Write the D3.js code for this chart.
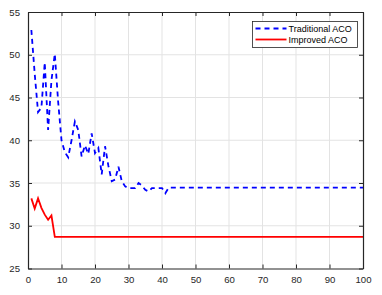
<!DOCTYPE html>
<html>
<head>
<meta charset="utf-8">
<script src="https://cdn.jsdelivr.net/npm/d3@7"></script>
<style>
    body { margin: 0; background: #fff; }
    text { font-family: "Liberation Sans", Arial, sans-serif; }
</style>
</head>
<body>
<script>
// iteration 1..100
var iterations = d3.range(1, 101);

// Traditional ACO, first 42 iterations then flat
var traditionalHead = [52.9, 47.8, 43.3, 43.8, 49.1, 41.2, 47.0, 50.1, 44.5, 40.0,
    38.6, 38.0, 40.0, 42.2, 41.2, 38.1, 39.4, 38.4, 40.8, 38.5,
    39.1, 36.0, 39.3, 37.0, 35.2, 35.4, 36.9, 35.2, 34.6, 34.4,
    34.4, 34.4, 35.0, 34.7, 34.2, 34.0, 34.4, 34.4, 34.4, 34.4,
    33.8, 34.45];
var traditionalTail = 34.45;

// Improved ACO, first 8 iterations then flat
var improvedHead = [33.2, 32.0, 33.2, 32.1, 31.3, 30.7, 31.2, 28.7];
var improvedTail = 28.7;

var xTicks = [0, 10, 20, 30, 40, 50, 60, 70, 80, 90, 100];
var yTicks = [25, 30, 35, 40, 45, 50, 55];

var seriesNames = ["Traditional ACO", "Improved ACO"];

var traditional = iterations.map(function(it, i) {
    return i < traditionalHead.length ? traditionalHead[i] : traditionalTail;
});
var improved = iterations.map(function(it, i) {
    return i < improvedHead.length ? improvedHead[i] : improvedTail;
});

var width = 382,
    height = 295;

// plot box (don't call these top/left, window.top is read only)
var plotLeft = 28, plotRight = 363, plotTop = 12, plotBottom = 268.5;

var axisColor = "#262626";

var svg = d3.select("body").append("svg")
    .attr("width", width)
    .attr("height", height);

var x = d3.scaleLinear().domain([0, 100]).range([plotLeft, plotRight]);
var y = d3.scaleLinear().domain([25, 55]).range([plotBottom, plotTop]);

// grid
svg.append("g")
    .selectAll("line")
    .data(xTicks.slice(1, -1))
    .enter().append("line")
    .attr("x1", function(d) { return x(d); })
    .attr("x2", function(d) { return x(d); })
    .attr("y1", plotTop)
    .attr("y2", plotBottom)
    .style("stroke", "#e3e3e3")
    .style("stroke-width", 1);

svg.append("g")
    .selectAll("line")
    .data(yTicks.slice(1, -1))
    .enter().append("line")
    .attr("x1", plotLeft)
    .attr("x2", plotRight)
    .attr("y1", function(d) { return y(d); })
    .attr("y2", function(d) { return y(d); })
    .style("stroke", "#e3e3e3")
    .style("stroke-width", 1);

var line = d3.line()
    .x(function(d, i) { return x(iterations[i]); })
    .y(function(d) { return y(d); });

svg.append("path")
    .datum(traditional)
    .attr("d", line)
    .style("fill", "none")
    .style("stroke", "#0000ff")
    .style("stroke-width", 1.8)
    .style("stroke-dasharray", "5,4");

svg.append("path")
    .datum(improved)
    .attr("d", line)
    .style("fill", "none")
    .style("stroke", "#ff0000")
    .style("stroke-width", 1.8);

// axes, ticks inside like MATLAB
var bottomAxis = d3.axisBottom(x).tickValues(xTicks).tickSizeInner(-4).tickSizeOuter(0).tickPadding(8);
var leftAxis = d3.axisLeft(y).tickValues(yTicks).tickSizeInner(-4).tickSizeOuter(0).tickPadding(8);
var topAxis = d3.axisTop(x).tickValues(xTicks).tickSizeInner(-4).tickSizeOuter(0).tickFormat("");
var rightAxis = d3.axisRight(y).tickValues(yTicks).tickSizeInner(-4).tickSizeOuter(0).tickFormat("");

function styleAxis(g) {
    g.select(".domain").style("stroke", axisColor).style("stroke-width", 1.2);
    g.selectAll(".tick line").style("stroke", axisColor);
    g.selectAll(".tick text")
        .style("fill", axisColor)
        .style("font-size", "9.6px")
        .style("font-family", "'Liberation Sans', Arial, sans-serif");
}

svg.append("g").attr("transform", "translate(0," + plotBottom + ")").call(bottomAxis).call(styleAxis);
svg.append("g").attr("transform", "translate(" + plotLeft + ",0)").call(leftAxis).call(styleAxis);
svg.append("g").attr("transform", "translate(0," + plotTop + ")").call(topAxis).call(styleAxis);
svg.append("g").attr("transform", "translate(" + plotRight + ",0)").call(rightAxis).call(styleAxis);

// legend
var legend = svg.append("g").attr("transform", "translate(252.5,21.5)");

legend.append("rect")
    .attr("width", 105)
    .attr("height", 26)
    .style("fill", "#fff")
    .style("stroke", axisColor)
    .style("stroke-width", 0.8);

var legendStyles = [
    { color: "#0000ff", dash: "5,4" },
    { color: "#ff0000", dash: null }
];

var items = legend.selectAll("g.item")
    .data(seriesNames)
    .enter().append("g")
    .attr("class", "item")
    .attr("transform", function(d, i) { return "translate(0," + (7 + i * 11) + ")"; });

items.append("line")
    .attr("x1", 3)
    .attr("x2", 34)
    .attr("y1", 0)
    .attr("y2", 0)
    .style("stroke", function(d, i) { return legendStyles[i].color; })
    .style("stroke-width", 1.8)
    .style("stroke-dasharray", function(d, i) { return legendStyles[i].dash; });

items.append("text")
    .attr("x", 36)
    .attr("y", 3.3)
    .text(function(d) { return d; })
    .attr("font-size", "9px")
    .attr("fill", "#000");
</script>
</body>
</html>
